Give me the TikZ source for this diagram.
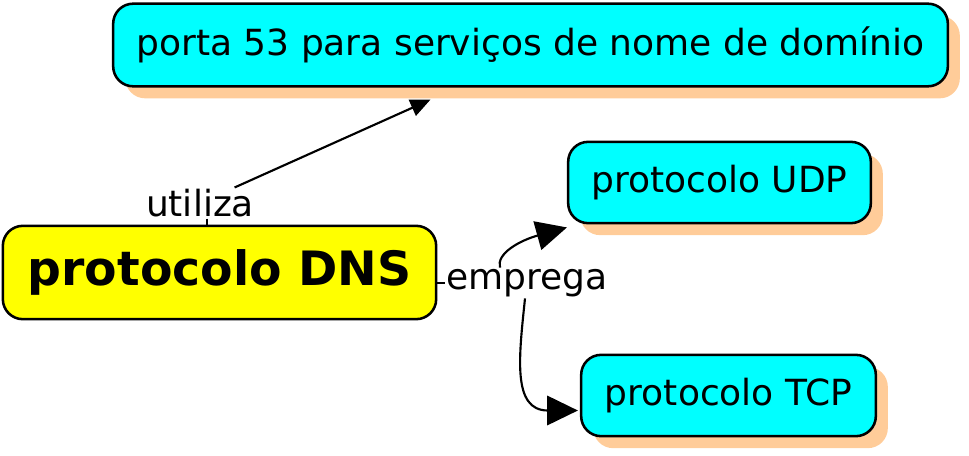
\documentclass[tikz,border=0pt]{standalone}
\usepackage{fontspec}
\setmainfont{DejaVu Sans}
\usetikzlibrary{arrows.meta,calc,positioning,shadows}
\definecolor{peach}{RGB}{255,204,153}
\definecolor{aqua}{RGB}{0,255,255}
\definecolor{lemon}{RGB}{255,255,0}
\tikzset{
  concept/.style={draw, line width=1.9pt, rounded corners=15pt, fill=aqua, inner xsep=4pt, font=\fontsize{27}{32}\selectfont},
  shadowed/.style={drop shadow={shadow xshift=9pt, shadow yshift=-9pt, fill=peach, opacity=1}},
  link label/.style={inner sep=1pt, font=\fontsize{27}{32}\selectfont},
  link/.style={line width=1.6pt},
  small head/.style={-{Triangle[length=15pt,width=13pt]}},
  big head/.style={-{Triangle[length=23pt,width=22pt]}},
}
\begin{document}
\begin{tikzpicture}[x=0.75pt, y=-0.75pt]
  \useasboundingbox (0,0) rectangle (969,456);

  % Concepts
  \node[concept, shadowed, minimum width=626pt, minimum height=62pt] (porta) at (530.5,45) {porta 53 para serviços de nome de domínio};
  \node[concept, shadowed, minimum width=227pt, minimum height=61pt] (udp) at (719.5,182.5) {protocolo UDP};
  \node[concept, shadowed, minimum width=221pt, minimum height=61pt] (tcp) at (728.5,395.5) {protocolo TCP};
  \node[concept, fill=lemon, minimum width=325pt, minimum height=70pt, font=\fontsize{35.5}{42}\selectfont\bfseries] (dns) at (219.5,272.5) {protocolo DNS};

  % Linking phrases
  \node[link label] (lutiliza) at (200,203) {utiliza};
  \node[link label] (lemprega) at (527,283) {emprega};

  % DNS -> porta 53
  \coordinate (utick) at ($(lutiliza.south)+(7,0)$);
  \draw[link] (utick) -- (utick |- dns.north);
  \draw[link, small head] (lutiliza) -- ($(porta.south)+(-100,12)$);

  % DNS -> UDP / TCP
  \draw[link] (lemprega.west) -- (lemprega.west -| dns.east);
  \draw[link, big head] ($(lemprega.north)+(-27,0)$) .. controls +(-4,-14) and +(-47,13) .. ($(udp.south west)+(0,3)$);
  \draw[link, big head] ($(lemprega.south)+(-2,0)$) .. controls +(-6,58) and +(-66,0) .. ($(tcp.west)+(-2,15)$);
\end{tikzpicture}
\end{document}
